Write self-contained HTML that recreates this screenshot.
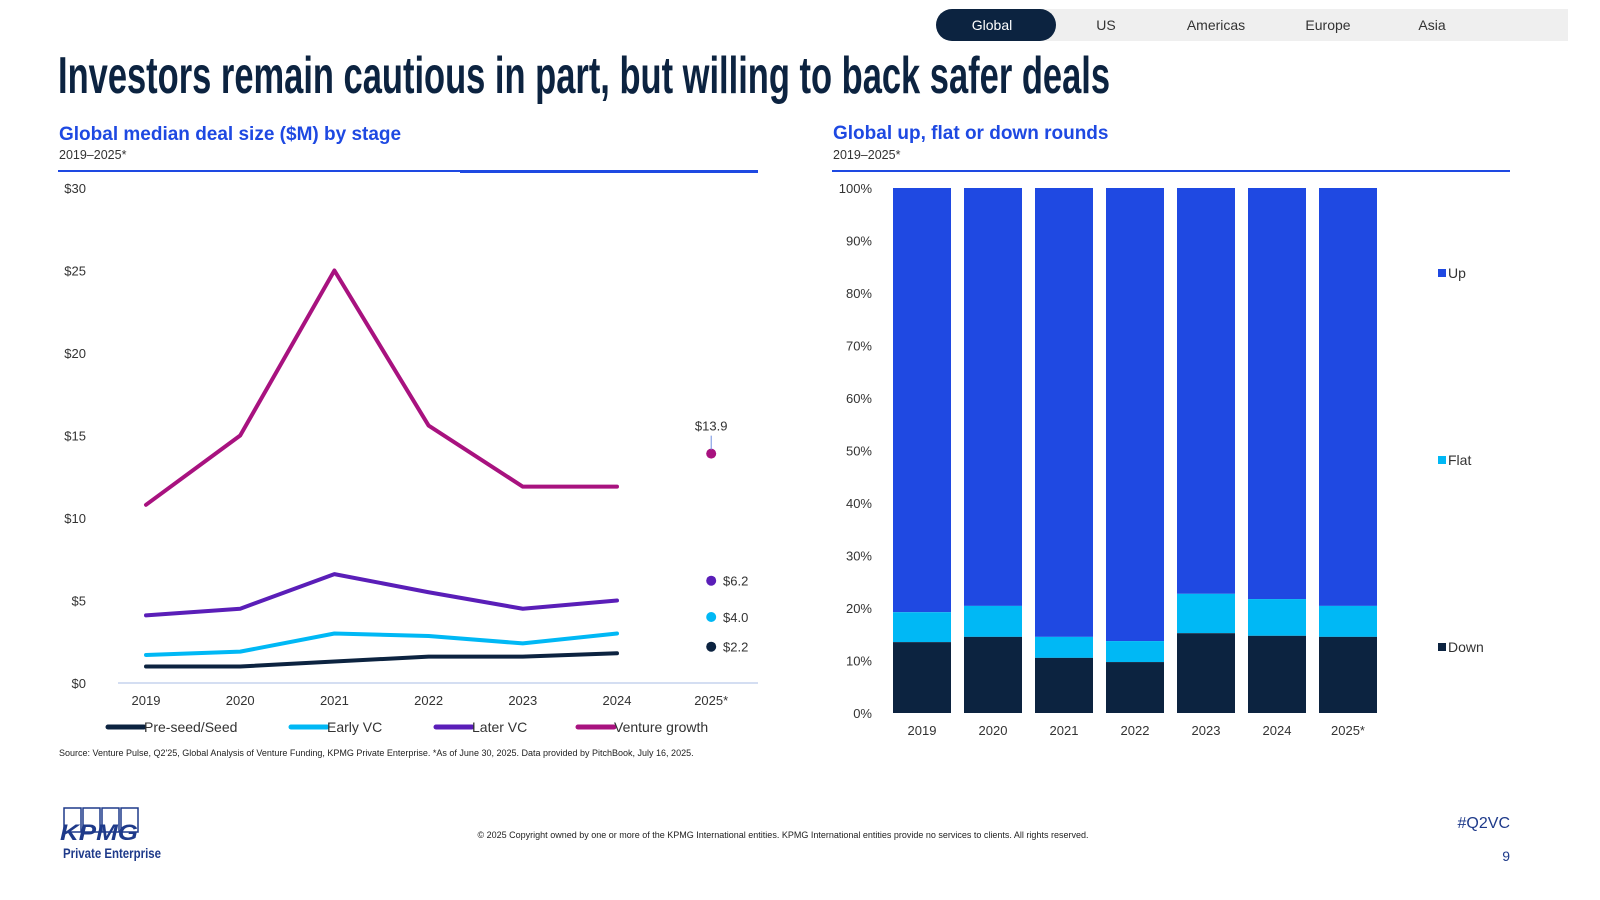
<!DOCTYPE html>
<html><head><meta charset="utf-8"><style>
body{margin:0;width:1600px;height:900px;background:#fff;overflow:hidden;font-family:"Liberation Sans",sans-serif;position:relative}
.abs{position:absolute}
</style></head><body>
<svg class="abs" style="left:0;top:0" width="1600" height="900">
 <g>
  <rect x="1040" y="9" width="528" height="32" fill="#efefef"/>
  <rect x="936" y="9" width="120" height="32" rx="16" fill="#0c2340"/>
  <text x="992" y="30" fill="#fff" font-size="14" text-anchor="middle">Global</text>
  <text x="1106" y="30" fill="#333" font-size="14" text-anchor="middle">US</text>
  <text x="1216" y="30" fill="#333" font-size="14" text-anchor="middle">Americas</text>
  <text x="1328" y="30" fill="#333" font-size="14" text-anchor="middle">Europe</text>
  <text x="1432" y="30" fill="#333" font-size="14" text-anchor="middle">Asia</text>
 </g>
 <text x="58" y="93" font-family="'Liberation Sans Narrow','Liberation Sans',sans-serif" font-weight="bold" font-size="52" fill="#0c2340" textLength="1052" lengthAdjust="spacingAndGlyphs">Investors remain cautious in part, but willing to back safer deals</text>

 <text x="59" y="140" font-size="19" font-weight="bold" fill="#1e49e2">Global median deal size ($M) by stage</text>
 <text x="59" y="159" font-size="12.5" fill="#333">2019–2025*</text>
 <rect x="58" y="170" width="700" height="2" fill="#1e49e2"/>
 <rect x="460" y="170" width="298" height="3" fill="#1e49e2"/>

 <text x="833" y="139" font-size="19" font-weight="bold" fill="#1e49e2">Global up, flat or down rounds</text>
 <text x="833" y="159" font-size="12.5" fill="#333">2019–2025*</text>
 <rect x="832" y="170" width="678" height="2" fill="#1e49e2"/>

 <g id="left"></g>
 <g id="right"></g>

 <text x="59" y="756" font-size="9" fill="#222">Source: Venture Pulse, Q2'25, Global Analysis of Venture Funding, KPMG Private Enterprise. *As of June 30, 2025. Data provided by PitchBook, July 16, 2025.</text>

 <g>
  <rect x="64" y="808" width="17" height="24" fill="none" stroke="#1e3a8a" stroke-width="1.5"/>
  <rect x="83" y="808" width="17" height="24" fill="none" stroke="#1e3a8a" stroke-width="1.5"/>
  <rect x="102" y="808" width="17" height="24" fill="none" stroke="#1e3a8a" stroke-width="1.5"/>
  <rect x="121" y="808" width="17" height="24" fill="none" stroke="#1e3a8a" stroke-width="1.5"/>
  <text x="60" y="840" font-size="22" font-weight="bold" font-style="italic" fill="#1e3a8a" textLength="78" lengthAdjust="spacingAndGlyphs">KPMG</text>
  <text x="63" y="858" font-family="'Liberation Sans Narrow','Liberation Sans',sans-serif" font-size="14" font-weight="bold" fill="#1e3a8a" textLength="98" lengthAdjust="spacingAndGlyphs">Private Enterprise</text>
 </g>
 <text x="783" y="838" font-size="9" fill="#222" text-anchor="middle">© 2025 Copyright owned by one or more of the KPMG International entities. KPMG International entities provide no services to clients. All rights reserved.</text>
 <text x="1510" y="828" font-size="16" fill="#1e3a8a" text-anchor="end">#Q2VC</text>
 <text x="1510" y="861" font-size="14" fill="#1e3a8a" text-anchor="end">9</text>
</svg>
<script>
const years = ["2019","2020","2021","2022","2023","2024","2025*"];
const seedVals = [1.0,1.0,1.3,1.6,1.6,1.8];
const earlyVals = [1.7,1.9,3.0,2.85,2.4,3.0];
const laterVals = [4.1,4.5,6.6,5.5,4.5,5.0];
const growthVals = [10.8,15.0,25.0,15.6,11.9,11.9];
const latest2025 = [2.2,4.0,6.2,13.9];
const seriesNames = ["Pre-seed/Seed","Early VC","Later VC","Venture growth"];
const yTicks = [0,5,10,15,20,25,30];
const barYears = ["2019","2020","2021","2022","2023","2024","2025*"];
const downPct = [13.5,14.5,10.5,9.7,15.2,14.7,14.5];
const flatPct = [5.7,5.9,4.0,4.0,7.5,7.0,5.9];
const pctTicks = [0,10,20,30,40,50,60,70,80,90,100];

const NS="http://www.w3.org/2000/svg";
function mk(parent,tag,attrs,text){const e=document.createElementNS(NS,tag);for(const k in attrs)e.setAttribute(k,attrs[k]);if(text!==undefined)e.textContent=text;parent.appendChild(e);return e;}

// left chart
const L=document.getElementById('left');
const lx=i=>146+i*94.2;
const ly=v=>683-v*16.5;
yTicks.forEach(t=>{const e=mk(L,'text',{x:86,y:ly(t)+5,'font-size':13,fill:'#333','text-anchor':'end'},'$'+t);

});
const ax=mk(L,'line',{x1:118,x2:758,y1:683,y2:683,stroke:'#c5d3ee','stroke-width':1.5});


years.forEach((y,i)=>{const e=mk(L,'text',{x:lx(i),y:705,'font-size':13,fill:'#333','text-anchor':'middle'},y);

});
const colors=['#0c2340','#00b8f5','#5a1eb8','#a8127f'];
const allSeries=[seedVals,earlyVals,laterVals,growthVals];
const sNames=['line-seed','line-early-vc','line-later-vc','line-venture-growth'];
allSeries.forEach((s,k)=>{
 const p=mk(L,'polyline',{points:s.map((v,i)=>lx(i)+','+ly(v)).join(' '),fill:'none',stroke:colors[k],'stroke-width':4,'stroke-linejoin':'round','stroke-linecap':'round'});
 
 
 const c=mk(L,'circle',{cx:lx(6),cy:ly(latest2025[k]),r:5,fill:colors[k]});
 
 
});
[0,1,2].forEach(k=>{const t=mk(L,'text',{x:723,y:ly(latest2025[k])+5,'font-size':13,fill:'#333'},'$'+latest2025[k].toFixed(1));

});
const gl=mk(L,'text',{x:lx(6),y:ly(latest2025[3])-23,'font-size':13,fill:'#333','text-anchor':'middle'},'$'+latest2025[3].toFixed(1));


mk(L,'line',{x1:lx(6),x2:lx(6),y1:ly(latest2025[3])-18,y2:ly(latest2025[3])-4,stroke:'#6f8fe0','stroke-width':1});
const legX=[108,291,436,578];
seriesNames.forEach((n,k)=>{
 const g=mk(L,'g',{});
 
 
 mk(g,'line',{x1:legX[k],x2:legX[k]+36,y1:727,y2:727,stroke:colors[k],'stroke-width':5,'stroke-linecap':'round'});
 mk(g,'text',{x:legX[k]+36,y:732,'font-size':14,fill:'#333'},n);
});

// right chart
const R=document.getElementById('right');
const bx=i=>922+i*71;
const by=v=>713-v*5.25;
pctTicks.forEach(t=>{const e=mk(R,'text',{x:872,y:by(t)+5,'font-size':13,fill:'#333','text-anchor':'end'},t+'%');

});
barYears.forEach((y,i)=>{
 const d=downPct[i],f=flatPct[i];
 const up=mk(R,'rect',{x:bx(i)-29,y:by(100),width:58,height:by(d+f)-by(100),fill:'#1f49e2'});
 
 
 const fl=mk(R,'rect',{x:bx(i)-29,y:by(d+f),width:58,height:by(d)-by(d+f),fill:'#00b8f5'});
 
 
 const dn=mk(R,'rect',{x:bx(i)-29,y:by(d),width:58,height:by(0)-by(d),fill:'#0c2340'});
 
 
 const t=mk(R,'text',{x:bx(i),y:735,'font-size':13,fill:'#333','text-anchor':'middle'},y);
 
 
});
[['Up','#1f49e2',273],['Flat','#00b8f5',460],['Down','#0c2340',647]].forEach(([n,c,y])=>{
 const g=mk(R,'g',{});
 
 
 mk(g,'rect',{x:1438,y:y-4,width:8,height:8,fill:c});
 mk(g,'text',{x:1448,y:y+5,'font-size':14,fill:'#333'},n);
});
</script>
</body></html>
